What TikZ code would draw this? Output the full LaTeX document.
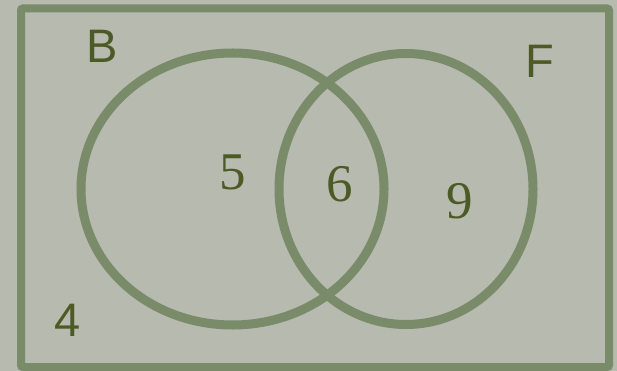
\documentclass[tikz,border=0pt]{standalone}
\usepackage{fontspec}
\setmainfont{Liberation Sans}
\newfontfamily\digfont{Liberation Serif}
\definecolor{bgc}{RGB}{182,186,175}
\definecolor{linec}{RGB}{122,139,106}
\definecolor{txtc}{RGB}{76,90,38}
\tikzset{
  venn/.style={draw=linec, line width=9pt},
  frame/.style={draw=linec, line width=8pt, rounded corners=2pt},
  lbl/.style={text=txtc, font=\fontsize{47}{47}\selectfont, inner sep=0pt},
  num/.style={text=txtc, font=\digfont\fontsize{53}{53}\selectfont, inner sep=0pt}
}
\begin{document}
\begin{tikzpicture}[x=1pt,y=-1pt]
  \fill[bgc] (0,0) rectangle (617,371);
  \useasboundingbox (0,0) rectangle (617,371);
  \draw[frame] (21,8.5) rectangle (609,367);
  \draw[venn] (232.5,189) ellipse [x radius=151.5, y radius=136];
  \draw[venn] (406,189) ellipse [x radius=127, y radius=135.5];
  \node[lbl] (B) at (102,46) {B};
  \node[lbl] (F) at (540,61) {F};
  \node[lbl] (four) at (68,320) {4};
  \node[num] (five) at (233,172) {5};
  \node[num] (six) at (340,184) {6};
  \node[num] (nine) at (460,201) {9};
\end{tikzpicture}
\end{document}
